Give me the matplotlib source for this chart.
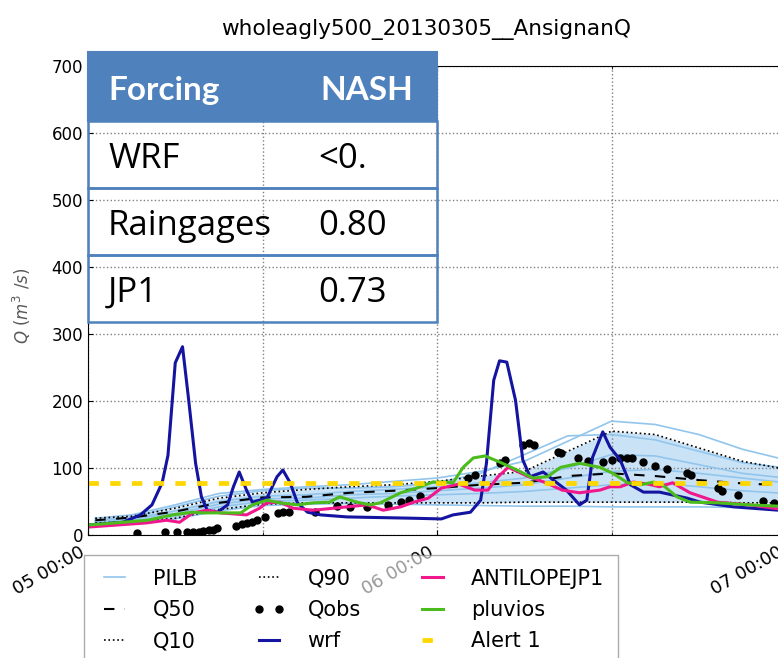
import datetime as dt
import matplotlib
matplotlib.use('Agg')
import matplotlib.pyplot as plt
import matplotlib.dates as mdates
from matplotlib.patches import Rectangle

# start of the event
t0 = dt.datetime(2013, 3, 5, 0, 0)

# ensemble (PILB) on a 3-hourly grid, hours after t0
ens_hours = [0.5, 3, 6, 9, 12, 15, 18, 21, 24, 27, 30, 33, 36, 39, 42, 45, 48]
pilb_members = [
    [25, 30, 45, 62, 68, 72, 75, 80, 85, 95, 110, 140, 170, 165, 150, 128, 112],
    [22, 27, 42, 58, 66, 70, 70, 72, 78, 92, 120, 148, 150, 142, 125, 108, 100],
    [20, 25, 36, 50, 58, 60, 65, 68, 72, 78, 85, 100, 120, 118, 105, 92, 85],
    [20, 24, 32, 46, 54, 55, 60, 62, 66, 70, 75, 85, 95, 98, 92, 85, 78],
    [18, 22, 28, 42, 50, 52, 55, 58, 60, 62, 65, 70, 75, 78, 72, 66, 62],
    [16, 19, 24, 36, 44, 46, 47, 46, 45, 44, 43, 43, 42, 42, 42, 41, 40],
]
q90 = [25, 28, 40, 55, 63, 68, 72, 75, 80, 88, 95, 125, 155, 150, 130, 110, 98]
q50 = [22, 26, 35, 48, 56, 57, 63, 66, 70, 75, 78, 88, 92, 88, 82, 77, 74]
q10 = [18, 20, 25, 38, 46, 48, 48, 48, 48, 48, 49, 49, 49, 49, 49, 48, 48]

# observed discharge
obs_hours = [3.4, 5.3, 6.1, 6.8, 7.2, 7.6, 7.9, 8.3, 8.6, 8.9, 10.2, 10.6, 10.9,
             11.3, 11.6, 12.2, 13.1, 13.4, 13.8, 15.6, 17.1, 18.0, 19.2, 20.6,
             21.5, 22.1, 22.8, 26.1, 26.6, 28.3, 28.7, 29.9, 30.3, 30.7, 32.3,
             32.5, 33.7, 34.4, 35.4, 36.0, 36.6, 37.1, 37.4, 38.2, 39.0, 39.8,
             41.2, 41.5, 43.3, 43.6, 44.7, 46.4, 47.2]
qobs = [3, 4, 4, 4, 4, 5, 6, 7, 8, 10, 13, 16, 18, 19, 22, 27, 33, 34, 34, 34,
        43, 42, 42, 45, 49, 52, 58, 85, 90, 107, 112, 134, 137, 134, 124, 122,
        115, 110, 109, 112, 115, 115, 115, 109, 103, 98, 92, 90, 70, 66, 60,
        51, 48]

# simulation forced by WRF
wrf_hours = [0.1, 2.4, 3.6, 4.4, 5.1, 5.5, 6.0, 6.5, 6.9, 7.4, 7.8, 8.2, 8.9,
             9.6, 10.0, 10.4, 10.9, 11.3, 12.3, 13.0, 13.4, 13.9, 14.4, 15.1,
             16.0, 17.8, 22.4, 24.3, 25.1, 26.3, 27.0, 27.4, 27.9, 28.3, 28.8,
             29.4, 29.9, 30.4, 31.3, 32.0, 32.9, 33.8, 34.3, 34.7, 35.4, 35.9,
             36.6, 37.3, 38.2, 39.3, 41.2, 42.1, 44.4, 47.5]
wrf = [15, 19, 30, 45, 78, 119, 257, 281, 206, 107, 57, 37, 34, 45, 72, 94, 67,
       49, 55, 87, 97, 78, 48, 34, 30, 27, 25, 24, 30, 34, 52, 107, 231, 260,
       258, 201, 112, 87, 94, 82, 67, 45, 52, 116, 154, 131, 112, 75, 64, 64,
       55, 49, 42, 37]

# simulation forced by JP1 radar (ANTILOPE)
jp1_hours = [0.1, 4.0, 5.4, 6.3, 7.2, 8.2, 9.1, 10.9, 11.8, 12.3, 13.2, 14.1,
             15.5, 16.9, 17.8, 19.2, 20.3, 21.5, 22.4, 23.4, 24.3, 25.5, 26.6,
             27.5, 28.2, 28.9, 30.3, 31.5, 32.6, 33.8, 35.2, 35.9, 36.6, 37.5,
             38.5, 39.3, 40.2, 41.4, 43.3, 45.5, 47.5]
jp1 = [12, 18, 22, 19, 33, 37, 33, 30, 40, 48, 49, 40, 37, 40, 42, 45, 37, 42,
       49, 55, 70, 76, 67, 67, 87, 101, 87, 78, 67, 63, 67, 72, 72, 79, 76, 72,
       78, 63, 49, 45, 39]

# simulation forced by raingages
pluvios_hours = [0.1, 4.1, 5.8, 7.2, 7.9, 9.1, 10.5, 11.3, 12.3, 13.2, 14.4,
                 15.5, 16.6, 17.3, 18.5, 19.4, 20.1, 21.5, 22.6, 23.7, 24.4,
                 25.1, 25.8, 26.5, 27.3, 28.3, 29.5, 30.6, 31.6, 32.5, 33.8,
                 35.2, 36.1, 37.1, 38.0, 38.9, 39.5, 40.5, 41.4, 43.3, 45.5,
                 47.5]
pluvios = [15, 22, 30, 34, 33, 33, 33, 45, 52, 48, 45, 48, 49, 57, 49, 45, 48,
           63, 70, 79, 79, 78, 101, 115, 118, 109, 97, 85, 87, 101, 107, 101,
           92, 78, 75, 79, 75, 57, 49, 48, 45, 43]

alert_level = 78

table_header = ['Forcing', 'NASH']
table_rows = [['WRF', '<0.'], ['Raingages', '0.80'], ['JP1', '0.73']]


def to_dates(hours):
    return [t0 + dt.timedelta(hours=h) for h in hours]


fig = plt.figure(figsize=(7.78, 6.58), dpi=100)
ax = fig.add_axes([88 / 778, 123 / 658, 698 / 778, 469 / 658])

ens_t = to_dates(ens_hours)
ax.fill_between(ens_t, q10, q90, color='#a8d0f0', alpha=0.6, lw=0)
for i, m in enumerate(pilb_members):
    ax.plot(ens_t, m, color='#92c5ec', lw=1.2, label='PILB' if i == 0 else None)
ax.plot(ens_t, q50, color='k', ls=(0, (5, 5)), lw=1.5, label='Q50')
ax.plot(ens_t, q10, color='k', ls=':', lw=1.2, label='Q10')
ax.plot(ens_t, q90, color='k', ls=':', lw=1.2, label='Q90')
ax.plot(to_dates(obs_hours), qobs, 'o', color='k', ms=5, label='Qobs')
ax.plot(to_dates(wrf_hours), wrf, color='#1414a0', lw=2.2, label='wrf')
ax.plot(to_dates(jp1_hours), jp1, color='#f0188c', lw=2.2, label='ANTILOPEJP1')
ax.plot(to_dates(pluvios_hours), pluvios, color='#4cbb1c', lw=2.2, label='pluvios')
ax.axhline(alert_level, color='#ffd700', lw=3.4, dashes=(2.2, 2.4), label='Alert 1')

ax.set_xlim(t0, t0 + dt.timedelta(hours=48))
ax.set_ylim(0, 700)
ax.set_yticks(range(0, 701, 100))
ax.xaxis.set_major_locator(mdates.DayLocator())
ax.xaxis.set_minor_locator(mdates.HourLocator(byhour=[12]))
ax.xaxis.set_major_formatter(mdates.DateFormatter('%d %H:%M'))
ax.grid(True, which='both', ls=':', color='0.5', lw=1)
ax.tick_params(which='both', direction='in', top=True, right=True)
ax.tick_params(axis='y', labelsize=12)
ax.tick_params(axis='x', labelsize=13, pad=6)
for lab in ax.get_xticklabels():
    lab.set_rotation(30)
    lab.set_ha('right')
ax.set_ylabel(r'$Q\ (m^3\ /s)$', fontsize=12, color='0.35')
ax.yaxis.set_label_coords(-0.079, 0.488)
ax.set_title('wholeagly500_20130305__AnsignanQ', fontsize=15.6, pad=22,
             x=(426 - 88) / 698)

fig.legend(loc='upper left', bbox_to_anchor=(84 / 778, 1 - 555 / 658), ncol=3,
           fontsize=15, numpoints=2, handlelength=1.6, handletextpad=1.05,
           columnspacing=2.65, labelspacing=0.55, borderpad=0.65,
           framealpha=0.6, edgecolor='0.45', fancybox=False, borderaxespad=0)

# NASH score table on top of the chart
blue = '#4f81bd'
tx0, tw = 88, 349
hy0, hh, rh = 52, 69, 67
def fx(px):
    return px / 778
def fy(py):
    return 1 - py / 658
fig.patches.append(Rectangle((fx(tx0), fy(hy0 + hh)), tw / 778, hh / 658,
                             transform=fig.transFigure, facecolor=blue,
                             edgecolor=blue, lw=1.5, zorder=10))
fig.text(fx(108), fy(hy0 + 48), table_header[0], color='white',
         fontsize=24, fontweight='bold', family='Lato', va='baseline', zorder=11)
fig.text(fx(320), fy(hy0 + 48), table_header[1], color='white',
         fontsize=24, fontweight='bold', family='Lato', va='baseline', zorder=11)
for i, row in enumerate(table_rows):
    top = hy0 + hh + i * rh
    fig.patches.append(Rectangle((fx(tx0), fy(top + rh)), tw / 778, rh / 658,
                                 transform=fig.transFigure, facecolor='none',
                                 edgecolor=blue, lw=1.8, zorder=10))
    fig.text(fx(108), fy(top + 47), row[0], fontsize=25, family='Open Sans',
             va='baseline', zorder=11)
    fig.text(fx(318), fy(top + 47), row[1], fontsize=25, family='Open Sans',
             va='baseline', zorder=11)

fig.savefig('out.png', dpi=100)
